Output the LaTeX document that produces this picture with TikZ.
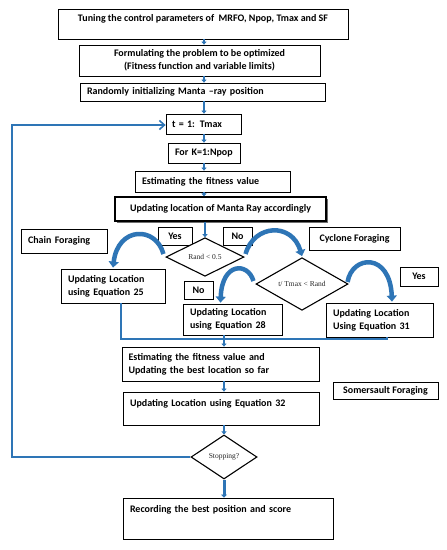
\documentclass[tikz,border=0pt]{standalone}
\usepackage{fontspec}
\setmainfont{Carlito}
\newfontfamily\tnr{Liberation Serif}
\usetikzlibrary{arrows.meta,shapes.geometric,shadows,calc}
\definecolor{fb}{HTML}{2E75B6}
\definecolor{shd}{HTML}{9A9A9A}
\begin{document}
\begin{tikzpicture}[x=1pt,y=-1pt,
  every node/.style={font=\fontsize{10}{13}\selectfont\bfseries},
  box/.style={draw=black, line width=0.8pt, fill=white, rectangle, inner ysep=0pt,
     drop shadow={shadow xshift=1.2pt, shadow yshift=-1.2pt, fill=shd, opacity=0.5}},
  lbox/.style={box, align=left, inner xsep=7pt},
  cbox/.style={box, align=center},
  dia/.style={draw=black, line width=1.1pt, fill=white, diamond, inner sep=0pt,
     font=\tnr\fontsize{7.5}{8}\selectfont, text=black!85},
  flow/.style={draw=fb, line width=1.8pt, -{Triangle[width=5pt,length=3pt]}},
  mline/.style={draw=fb, line width=1.6pt},
  loopl/.style={draw=fb, line width=2.2pt, -{Straight Barb[length=5pt,width=9pt,line width=1.6pt]}},
  curv/.style={draw=fb, line width=4.5pt, -{Triangle[length=6pt,width=10pt]}}]
\useasboundingbox (0,0) rectangle (447,550);
\fill[white] (0,0) rectangle (447,550);

\node[cbox, minimum width=290pt, minimum height=30pt, text height=12.5pt, text depth=17.5pt] (b1) at (203,24) {Tuning the control parameters of~ MRFO, Npop, Tmax and SF};
\node[cbox, minimum width=241pt, minimum height=31pt] (b2) at (199.5,60.5) {Formulating the problem to be optimized\\(Fitness function and variable limits)};
\node[lbox, text width=231pt, minimum height=18pt] (b3) at (202.5,92) {Randomly initializing Manta –ray position};
\node[lbox, text width=63pt, inner xsep=6pt, minimum height=20pt] (b4) at (203.5,124) {t = 1: Tmax};
\node[lbox, text width=58pt, minimum height=20pt] (b5) at (204,153) {For K=1:Npop};
\node[lbox, text width=141pt, minimum height=21pt] (b6) at (212.5,181.5) {Estimating the fitness value};
\node[cbox, line width=1.3pt, minimum width=211pt, minimum height=24pt,
  drop shadow={shadow xshift=1.5pt, shadow yshift=-2pt, fill=black!70, opacity=0.8}] (b7) at (220.5,209) {Updating location of Manta Ray accordingly};

\node[cbox, minimum width=34pt, minimum height=18pt] (yes1) at (175,236) {Yes};
\node[cbox, minimum width=29pt, minimum height=18pt] (no1) at (237.5,236) {No};
\node[lbox, text width=72pt, minimum height=24pt] (chain) at (64,241) {Chain Foraging};
\node[cbox, minimum width=91pt, minimum height=23pt] (cyc) at (354.5,238.5) {Cyclone Foraging};
\node[dia, minimum width=78pt, minimum height=36pt] (d1) at (205,257) {Rand < 0.5};

\node[lbox, text width=90pt, minimum height=34pt] (eq25) at (113,286) {Updating Location\\using Equation 25};
\node[cbox, minimum width=29pt, minimum height=18pt] (no2) at (198.5,290) {No};
\node[dia, minimum width=92pt, minimum height=34pt] (d2) at (302,284) {t/ Tmax < Rand};
\node[cbox, minimum width=38pt, minimum height=19pt] (yes2) at (419,276.5) {Yes};
\node[lbox, text width=85pt, minimum height=31pt] (eq28) at (232.5,319.5) {Updating Location\\using Equation 28};
\node[lbox, text width=93pt, minimum height=34pt] (eq31) at (379.5,320) {Updating Location\\Using Equation 31};

\node[lbox, text width=184pt, inner xsep=6.5pt, minimum height=34pt] (est2) at (220.5,364) {Estimating the fitness value and\\Updating the best location so far};
\node[cbox, minimum width=105pt, minimum height=17pt] (som) at (385.5,390.5) {Somersault Foraging};
\node[lbox, text width=182pt, minimum height=33pt, text height=14.5pt, text depth=18.5pt] (eq32) at (221,408.5) {Updating Location using Equation 32};
\node[dia, minimum width=66pt, minimum height=44pt] (d3) at (224,457) {Stopping?};
\node[lbox, text width=196pt, minimum height=41pt, text height=14.5pt, text depth=26.5pt] (rec) at (228,518.5) {Recording the best position and score};

% main column connectors
\coordinate (col) at (204,0);
\draw[flow] (col |- b1.south) -- (col |- b2.north);
\draw[flow] (col |- b2.south) -- (col |- b3.north);
\draw[flow] (col |- b3.south) -- (col |- b4.north);
\draw[flow] (col |- b4.south) -- (col |- b5.north);
\draw[flow] (col |- b5.south) -- (col |- b6.north);
\draw[flow] (col |- b6.south) -- (col |- b7.north);
\draw[flow] (d1.north |- b7.south) -- (d1.north);

% curved branch arrows
\draw[curv] ($(d1.west)+(-2,-3)$) .. controls (156,226) and (118,226) .. ($(eq25.north)+(0,-1)$);
\draw[curv] ($(d1.east)+(1,-3)$) .. controls (254,224) and (292,222) .. ($(d2.north)+(0,-1)$);
\draw[curv] ($(d2.west)+(-2,-3)$) .. controls (248,262) and (222,262) .. ($(eq28.north)+(-12,-1)$);
\draw[curv] ($(d2.east)+(-1,-2)$) .. controls (352,255) and (390,252) .. ($(eq31.north)+(12.5,-1)$);

% merge
\coordinate (mL) at (121,339);
\coordinate (mR) at (387,339);
\coordinate (m) at (224,339);
\draw[mline] ($(eq25.south)+(8,0)$) -- (mL) -- (mR) -- ($(eq31.south)+(7.5,0)$);
\draw[mline] ($(eq28.south)+(-8.5,0)$) -- (m);
\draw[flow] (m) -- (m |- est2.north);
\draw[flow] (m |- est2.south) -- (m |- eq32.north);
\draw[flow] (m |- eq32.south) -- (d3.north);
\draw[draw=fb, line width=3pt, -{Triangle[width=6pt,length=3pt]}] (d3.south) -- (d3.south |- rec.north);

% loop back
\coordinate (lb) at (12,457);
\coordinate (lt) at (12,125);
\draw[loopl] (d3.west) -- (lb) -- (lt) -- (lt -| b4.west);
\end{tikzpicture}
\end{document}
